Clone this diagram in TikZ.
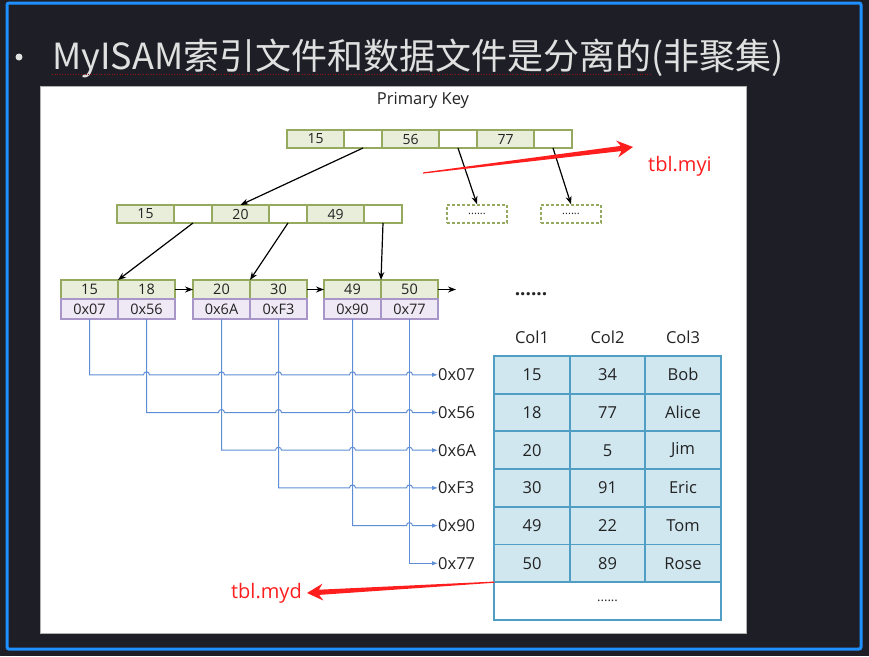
\documentclass[tikz,border=0pt]{standalone}
\usepackage{fontspec}
\setmainfont{Open Sans}
\newfontfamily\cjkfont{Noto Sans CJK SC}
\usetikzlibrary{arrows.meta,positioning,calc}

\definecolor{slidebg}{RGB}{30,31,38}
\definecolor{frameblue}{RGB}{30,144,255}
\definecolor{keygreen}{RGB}{150,170,95}
\definecolor{keyfill}{RGB}{232,238,218}
\definecolor{addrline}{RGB}{168,150,200}
\definecolor{addrfill}{RGB}{238,233,245}
\definecolor{tblline}{RGB}{80,158,195}
\definecolor{tblfill}{RGB}{208,231,240}
\definecolor{ptrblue}{RGB}{95,142,214}
\definecolor{tagred}{RGB}{255,30,30}
\definecolor{inktext}{RGB}{35,35,35}

\newcommand{\pxfont}[1]{\fontsize{#1}{#1}\selectfont}
% tapered red pointer from #1 to #2
\newcommand{\redarrow}[2]{%
  \coordinate (#1-b) at ($(#2)!16pt!(#1)$);
  \coordinate (#1-s) at ($(#2)!12pt!(#1)$);
  \fill[tagred] ($(#1)!0.6pt!90:(#2)$) -- ($(#1-s)!2.6pt!90:(#2)$)
    -- ($(#1-b)!8.5pt!90:(#2)$) -- (#2) -- ($(#1-b)!8.5pt!-90:(#2)$)
    -- ($(#1-s)!2.6pt!-90:(#2)$) -- ($(#1)!0.6pt!-90:(#2)$) -- cycle;}

\begin{document}
\begin{tikzpicture}[x=1pt, y=-1pt, >=Stealth,
  keycell/.style={rectangle, draw=keygreen, fill=keyfill, line width=1.8pt,
                  minimum width=57pt, minimum height=18pt, inner sep=0pt,
                  outer sep=0pt, font=\pxfont{14}, text=inktext},
  ptrcell/.style={keycell, fill=white, minimum width=38pt},
  leafkey/.style={keycell, minimum height=19pt, font=\pxfont{14.5}},
  addrcell/.style={leafkey, draw=addrline, fill=addrfill, minimum height=20pt},
  morebox/.style={rectangle, draw=keygreen, densely dashed, line width=1.5pt,
                  minimum width=60pt, minimum height=18pt, font=\pxfont{11},
                  text=inktext},
  link/.style={-{Stealth[length=8pt,width=6pt]}, line width=1.2pt, black},
  ptr/.style={draw=ptrblue, line width=1pt, -{Latex[length=6pt,width=4.5pt]}},
  hop/.style={insert path={arc[start angle=180, end angle=0, radius=3pt]}},
  tcell/.style={rectangle, draw=tblline, fill=tblfill, line width=1.8pt,
                minimum width=75.5pt, minimum height=37.7pt, inner sep=0pt,
                outer sep=0pt, font=\pxfont{16.5}, text=inktext},
  plain/.style={font=\pxfont{16.5}, text=inktext, inner sep=0pt},
  tag/.style={font=\pxfont{20}, text=tagred, inner sep=0pt}]

  % Slide
  \fill[slidebg] (0,0) rectangle (869,656);
  \draw[frameblue, line width=3pt, rounded corners=2pt] (7,3) rectangle (861,649);
  \fill[white!88!black] (19,57) circle (3.5pt);
  \node[anchor=base west, inner sep=0pt, text=white!88!black,
        font=\cjkfont\pxfont{36}] (title) at (52,69)
    {MyISAM索引文件和数据文件是分离的(非聚集)};
  \draw[red!55!slidebg, line width=0.6pt, dotted]
    ($(title.base west)+(0,-5pt)$) -- ++(600pt,0);
  \draw[gray!60, fill=white, line width=1pt] (40,86) rectangle (746,633);

  \node[plain] (pk) at (423,100) {Primary Key};

  % Root node
  \node[keycell] (r1) at (315.5,139) {15};
  \node[ptrcell, right=0pt of r1] (r1p) {};
  \node[keycell, right=0pt of r1p] (r2) {56};
  \node[ptrcell, right=0pt of r2] (r2p) {};
  \node[keycell, right=0pt of r2p] (r3) {77};
  \node[ptrcell, right=0pt of r3] (r3p) {};

  % Inner node
  \node[keycell] (n1) at (145.5,214) {15};
  \node[ptrcell, right=0pt of n1] (n1p) {};
  \node[keycell, right=0pt of n1p] (n2) {20};
  \node[ptrcell, right=0pt of n2] (n2p) {};
  \node[keycell, right=0pt of n2p] (n3) {49};
  \node[ptrcell, right=0pt of n3] (n3p) {};
  \node[morebox] (m1) at (477,214) {......};
  \node[morebox] (m2) at (571,214) {......};

  % Leaves
  \node[leafkey] (k1) at (89.5,289.5) {15};
  \node[leafkey, right=0pt of k1] (k2) {18};
  \node[leafkey] (k3) at (221.5,289.5) {20};
  \node[leafkey, right=0pt of k3] (k4) {30};
  \node[leafkey] (k5) at (352.5,289.5) {49};
  \node[leafkey, right=0pt of k5] (k6) {50};
  \foreach \i/\addr in {1/0x07,2/0x56,3/0x6A,4/0xF3,5/0x90,6/0x77}
    \node[addrcell, below=0pt of k\i] (a\i) {\addr};
  \node[font=\pxfont{19}\bfseries, text=inktext] (etc) at (531,294) {......};
  \coordinate (more) at (456,289.5);

  % Tree arrows
  \draw[link] (r1p.south) -- (n2.north);
  \draw[link] (r2p.south) -- (m1.north);
  \draw[link] (r3p.south) -- (m2.north);
  \draw[link] (n1p.south) -- (k1.north east);
  \draw[link] (n2p.south) -- (k3.north east);
  \draw[link] (n3p.south) -- (k5.north east);
  \draw[link] (k2.east) -- (k3.west);
  \draw[link] (k4.east) -- (k5.west);
  \draw[link] (k6.east) -- (more);

  % Data file
  \foreach \c/\name in {1/Col1,2/Col2,3/Col3}
    \node[plain] (h\c) at (456.5+75.5*\c,337) {\name};
  \foreach \r/\one/\two/\three/\addr in {1/15/34/Bob/0x07,2/18/77/Alice/0x56,
      3/20/5/Jim/0x6A,4/30/91/Eric/0xF3,5/49/22/Tom/0x90,6/50/89/Rose/0x77}{
    \node[tcell] (t\r-1) at (532,337.1+37.7*\r) {\one};
    \node[tcell, right=0pt of t\r-1] (t\r-2) {\two};
    \node[tcell, right=0pt of t\r-2] (t\r-3) {\three};
    \node[plain, anchor=west] (p\r) at (438,337.1+37.7*\r) {\addr};
  }
  \node[tcell, fill=white, minimum width=226.5pt, font=\pxfont{13},
        below=0pt of t6-2] (trest) {......};

  % Row pointers
  \foreach \i/\n in {1/2,2/3,3/4,4/5,5/6}
    \draw[ptr] (a\i.south) -- (a\i.south |- p\i.west)
      \foreach \j in {\n,...,6} { -- ($(a\j.south |- p\i.west)+(-3pt,0)$) [hop] }
      -- (p\i.west);
  \draw[ptr] (a6.south) |- (p6.west);

  % File tags
  \node[tag, anchor=west] (myi) at (648,166) {tbl.myi};
  \node[tag, anchor=east] (myd) at (302,593) {tbl.myd};
  \coordinate (myitail) at (423,173);
  \coordinate (myihead) at (633,147);
  \coordinate (mydhead) at ($(myd.east)+(5pt,0)$);
  \redarrow{myitail}{myihead}
  \coordinate (mydtail) at (trest.north west);
  \redarrow{mydtail}{mydhead}
\end{tikzpicture}
\end{document}
